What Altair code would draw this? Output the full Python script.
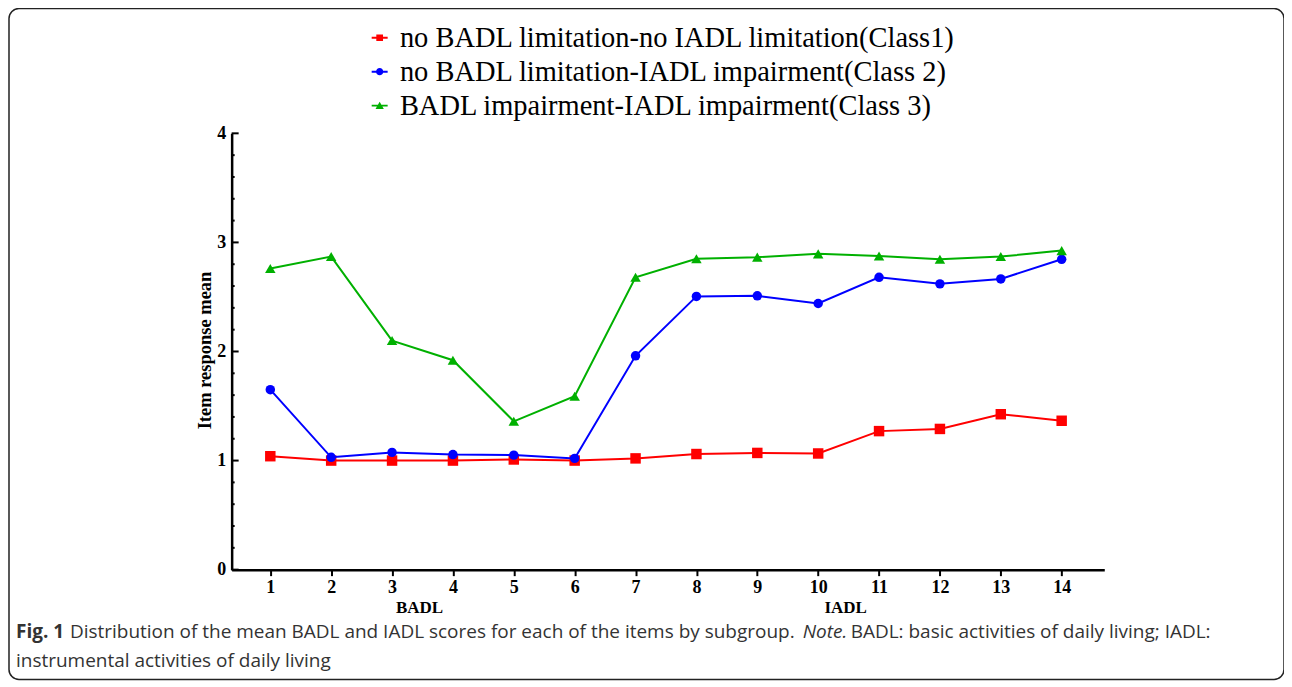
import altair as alt
import pandas as pd

# ---------------- data ----------------
items = list(range(1, 15))
domains = ["BADL"] * 6 + ["IADL"] * 8
class1 = [1.04, 1.00, 1.00, 1.00, 1.01, 1.00, 1.02, 1.06, 1.07, 1.065, 1.27, 1.29, 1.425, 1.365]
class2 = [1.65, 1.03, 1.075, 1.055, 1.05, 1.02, 1.96, 2.505, 2.51, 2.44, 2.68, 2.62, 2.665, 2.845]
class3 = [2.76, 2.87, 2.10, 1.92, 1.36, 1.59, 2.68, 2.85, 2.865, 2.895, 2.875, 2.845, 2.87, 2.925]
series_names = [
    "no BADL limitation-no IADL limitation(Class1)",
    "no BADL limitation-IADL impairment(Class 2)",
    "BADL impairment-IADL impairment(Class 3)",
]
series_values = [class1, class2, class3]
series_colors = ["#ff0000", "#0000ff", "#00b000"]
series_shapes = ["square", "circle", "triangle-up"]
y_ticks = [0, 1, 2, 3, 4]
y_minor = [round(i * 0.2, 1) for i in range(21) if i % 5 != 0]
y_title = "Item response mean"
caption_bold = "Fig. 1"
caption_text1 = "Distribution of the mean BADL and IADL scores for each of the items by subgroup."
caption_italic = "Note."
caption_text2 = "BADL: basic activities of daily living; IADL:"
caption_line2 = "instrumental activities of daily living"

# legend symbols: short line with marker (custom paths)
legend_paths = [
    "M-1,-0.12H1V0.12H-1Z M-0.42,-0.42H0.42V0.42H-0.42Z",
    "M-1,-0.12H1V0.12H-1Z M-0.45,0A0.45,0.45 0 1,1 0.45,0A0.45,0.45 0 1,1 -0.45,0Z",
    "M-1,-0.12H1V0.12H-1Z M0,-0.5L0.52,0.42L-0.52,0.42Z",
]

rows = []
for name, vals in zip(series_names, series_values):
    for it, dom, v in zip(items, domains, vals):
        rows.append({"series": name, "item": it, "domain": dom, "value": v})
df = pd.DataFrame(rows)

W, H = 874, 437
SERIF = "Liberation Serif"
SANS = "Open Sans"

xscale = alt.Scale(domain=[0.365, 14.7], nice=False, zero=False)
yscale = alt.Scale(domain=[0, 4], nice=False, zero=True)

x_axis = alt.Axis(values=items, title=None, grid=False, domainColor="black", domainWidth=2.5,
                  tickColor="black", tickWidth=2, tickSize=6, labelPadding=3,
                  labelFont=SERIF, labelFontWeight="bold", labelFontSize=18, labelColor="black")
y_axis = alt.Axis(values=y_ticks, title=None, grid=False, ticks=False, domainColor="black",
                  domainWidth=2.5, labelPadding=6, labelFont=SERIF, labelFontWeight="bold",
                  labelFontSize=18, labelColor="black")

X = alt.X("item:Q", scale=xscale, axis=x_axis)
Y = alt.Y("value:Q", scale=yscale, axis=y_axis)

base = alt.Chart(df)

layers = []
# legend-only layer (no rows drawn; explicit scale domain keeps all legend entries)
legend_layer = base.transform_filter(alt.datum.item < 0).mark_point(filled=True, opacity=1).encode(
    x=X, y=Y,
    color=alt.Color("series:N", scale=alt.Scale(domain=series_names, range=series_colors),
                    legend=alt.Legend(title=None, orient="none", legendX=134, legendY=-110,
                                      labelFont=SERIF, labelFontSize=28.5, labelColor="black",
                                      symbolSize=256, symbolOpacity=1, symbolStrokeWidth=0,
                                      labelOffset=6, rowPadding=5, labelLimit=800)),
    shape=alt.Shape("series:N", scale=alt.Scale(domain=series_names, range=legend_paths)),
)
layers.append(legend_layer)

for name, col, shp in zip(series_names, series_colors, series_shapes):
    sub = base.transform_filter(alt.datum.series == name)
    layers.append(sub.mark_line(color=col, strokeWidth=2).encode(x=X, y=Y))
    layers.append(sub.mark_point(color=col, filled=True, opacity=1, shape=shp,
                                 size=110 if shp != "circle" else 90).encode(x=X, y=Y))

# inward y ticks (major and minor)
major_df = pd.DataFrame({"value": y_ticks})
minor_df = pd.DataFrame({"value": y_minor})
layers.append(alt.Chart(major_df).mark_rule(color="black", strokeWidth=2).encode(
    y=Y, x=alt.value(0), x2=alt.value(7)))
layers.append(alt.Chart(minor_df).mark_rule(color="black", strokeWidth=2).encode(
    y=Y, x=alt.value(0), x2=alt.value(3)))

# y title
ttl_df = pd.DataFrame({"t": [y_title]})
layers.append(alt.Chart(ttl_df).mark_text(angle=270, font=SERIF, fontWeight="bold", fontSize=18.5,
                                          color="black", baseline="middle", align="center").encode(
    text="t:N", x=alt.value(-27), y=alt.value(H / 2 - 1)))

# group labels BADL / IADL centered under their items
layers.append(base.transform_filter(alt.datum.series == series_names[0]).transform_aggregate(
    item="mean(item)", groupby=["domain"]).mark_text(
    font=SERIF, fontWeight="bold", fontSize=17, color="black", baseline="middle", dx=-3).encode(
    x=X, y=alt.value(H + 38), text="domain:N"))

# caption
cap_rows = [
    {"t": caption_bold, "x": -216, "y": 499, "w": "bold", "s": "normal"},
    {"t": caption_text1, "x": -162, "y": 499, "w": "normal", "s": "normal"},
    {"t": caption_italic, "x": 572, "y": 499, "w": "normal", "s": "italic"},
    {"t": caption_text2, "x": 620, "y": 499, "w": "normal", "s": "normal"},
    {"t": caption_line2, "x": -216, "y": 529, "w": "normal", "s": "normal"},
]
for r in cap_rows:
    layers.append(alt.Chart(pd.DataFrame({"t": [r["t"]]})).mark_text(
        font=SANS, fontSize=19, fontWeight=r["w"], fontStyle=r["s"], color="#333333",
        align="left", baseline="middle").encode(
        text="t:N", x=alt.value(r["x"]), y=alt.value(r["y"])))

# rounded outer frame
frame_df = pd.DataFrame({"f": [1]})
layers.append(alt.Chart(frame_df).mark_rect(fillOpacity=0, stroke="#222222", strokeWidth=1.5,
                                            cornerRadius=10).encode(
    x=alt.value(-223), x2=alt.value(1054), y=alt.value(-125), y2=alt.value(547)))

chart = alt.layer(*layers).properties(
    width=W, height=H,
    autosize=alt.AutoSizeParams(type="none"),
    padding={"left": 224, "top": 125, "right": 180, "bottom": 112},
).configure(background="white").configure_view(stroke=None)

chart.save("out.html", embed_options={"renderer": "svg", "actions": False})
